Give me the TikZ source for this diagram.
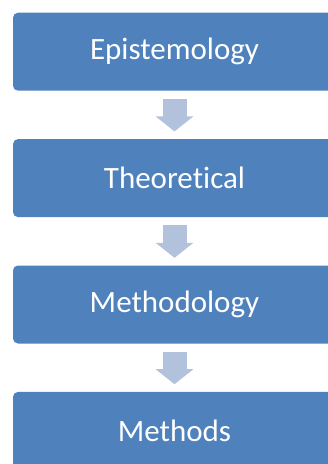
\documentclass[tikz,border=0pt]{standalone}
\usepackage{fontspec}
\setmainfont{Carlito}[Ligatures=NoCommon]
\usepackage{tikz}
\usetikzlibrary{arrows.meta,positioning}
\definecolor{boxblue}{RGB}{79, 129, 189}
\definecolor{arrowblue}{RGB}{178, 194, 221}
\tikzstyle{level} = [rectangle, rounded corners=5pt, fill=boxblue, text=white, text centered, font=\fontsize{31}{37}\selectfont, minimum width=323pt, minimum height=78pt, inner sep=0pt]
\tikzstyle{flow} = [draw=arrowblue, line width=24pt, -{Triangle[width=37pt,length=15pt]}, shorten <=8pt, shorten >=7.5pt]

\begin{document}
\begin{tikzpicture}[x=1pt, y=1pt]

\useasboundingbox (0,0) rectangle (328,-464);

% levels =============================
\node[level] (episte) at (174.5,-51.7) {Epistemology};
\node[level, below=48pt of episte] (theory) {Theoretical};
\node[level, below=48pt of theory] (methodology) {Methodology};
\node[level, below=48pt of methodology] (methods) {Methods};

% edges
\path[flow] (episte.south) -- (theory.north);
\path[flow] (theory.south) -- (methodology.north);
\path[flow] (methodology.south) -- (methods.north);

\end{tikzpicture}
\end{document}
